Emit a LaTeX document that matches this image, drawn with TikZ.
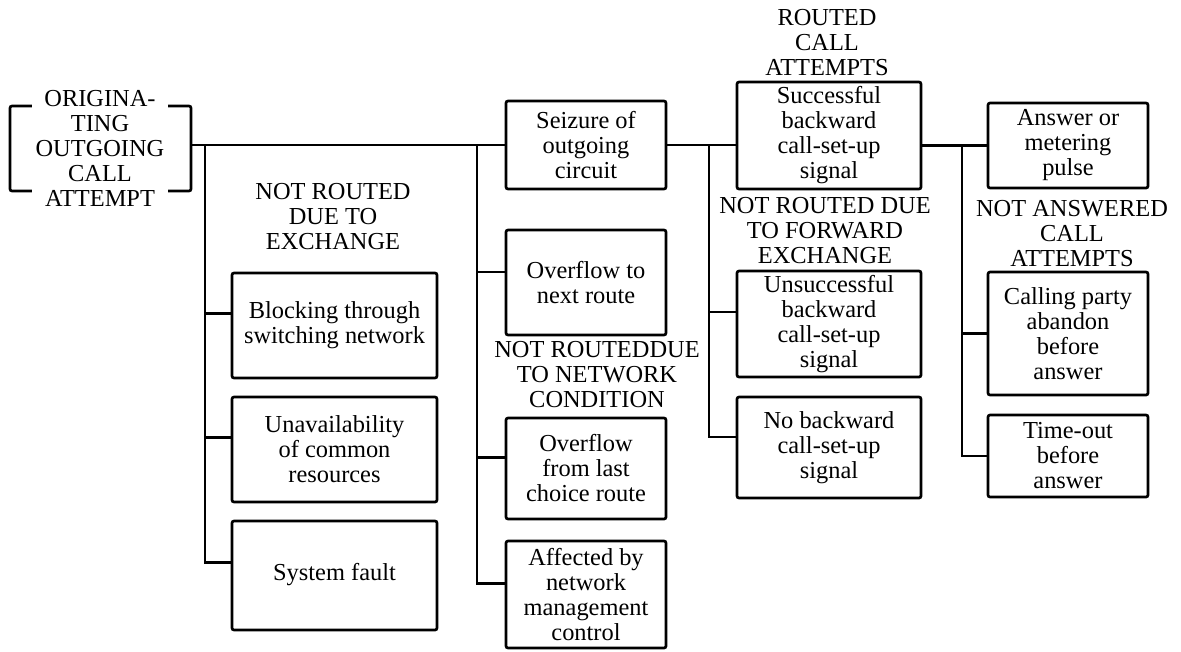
\documentclass[tikz,border=0pt]{standalone}
\usepackage{fontspec}
\setmainfont{Liberation Serif}
\newcommand\dglfont{\fontsize{18.3pt}{18.75pt}\selectfont}
% box from its left, top, right and bottom edge (in px units)
\newcommand\mkbox[6]{%
  \pgfmathsetmacro\mkbw{(#4-#2)*0.75}%
  \pgfmathsetmacro\mkbh{(#5-#3)*0.75}%
  \node[box, minimum width=\mkbw pt, minimum height=\mkbh pt] (#1)
    at ({(#2+#4)/2},{(#3+#5)/2}) {#6};}
\begin{document}
\begin{tikzpicture}[x=0.75pt,y=-0.75pt,
  box/.style={draw, line width=2pt, rounded corners=1.5pt, inner sep=0pt,
              align=center, font=\dglfont},
  lab/.style={align=center, font=\dglfont, inner sep=0pt},
  wire/.style={line width=2pt}]
\useasboundingbox (0,0) rectangle (1181,651);

% originating call attempt
\mkbox{origbox}{10}{106}{191}{191}{}
\node[lab, fill=white, inner xsep=3pt, inner ysep=1pt] (orig) at (100,148.5)
  {ORIGINA-\\TING\\OUTGOING\\CALL\\ATTEMPT};

% main chain
\mkbox{seizure}{506}{101}{666}{189}{Seizure of\\outgoing\\circuit}
\mkbox{success}{737}{82}{921}{189}{Successful\\backward\\call-set-up\\signal}
\mkbox{answer}{988}{103}{1148}{188}{Answer or\\metering\\pulse}

% not routed due to exchange
\mkbox{blocking}{232}{273}{437}{378}{Blocking through\\switching network}
\mkbox{unavail}{232}{397}{437}{502}{Unavailability\\of common\\resources}
\mkbox{sysfault}{232}{521}{437}{630}{\raisebox{5pt}{System fault}}

% not routed due to network condition
\mkbox{ovnext}{506}{230}{666}{335}{Overflow to\\next route}
\mkbox{ovlast}{506}{418}{666}{519}{Overflow\\from last\\choice route}
\mkbox{affected}{506}{541}{666}{648}{Affected by\\network\\management\\control}

% not routed due to forward exchange
\mkbox{unsucc}{737}{271}{921}{377}{Unsuccessful\\backward\\call-set-up\\signal}
\mkbox{noback}{737}{397}{921}{498}{No backward\\call-set-up\\signal}

% not answered
\mkbox{calling}{988}{272}{1148}{395}{Calling party\\abandon\\before\\answer}
\mkbox{timeout}{988}{415}{1148}{497}{Time-out\\before\\answer}

% group headings
\node[lab] (hrouted) at (827,43) {ROUTED\\CALL\\ATTEMPTS};
\node[lab] (hfwd) at (825,231) {NOT ROUTED DUE\\TO FORWARD\\EXCHANGE};
\node[lab] (hexch) at (333,217) {NOT ROUTED\\DUE TO\\EXCHANGE};
\node[lab] (hnet) at (597,375) {NOT ROUTEDDUE\\TO NETWORK\\CONDITION};
\node[lab] (hans) at (1072,234) {NOT ANSWERED\\CALL\\ATTEMPTS};

% main line
\draw[wire] (origbox.east |- seizure.west) -- (seizure.west);
\draw[wire] (seizure.east) -- (seizure.east -| success.west);
\draw[wire] (success.east |- answer.west) -- (answer.west);

% branch points on the main line
\coordinate (j1) at (205,145);
\coordinate (j2) at (477,145);
\coordinate (j3) at (709,145);
\coordinate (j4) at (962,145);

% entry points on the boxes
\coordinate (blockingin) at ([yshift=9pt]blocking.west);
\coordinate (unavailin) at ([yshift=9pt]unavail.west);
\coordinate (sysfaultin) at ([yshift=10pt]sysfault.west);
\coordinate (ovnextin) at ([yshift=8pt]ovnext.west);
\coordinate (ovlastin) at ([yshift=8.5pt]ovlast.west);
\coordinate (affectedin) at ([yshift=8.5pt]affected.west);
\coordinate (unsuccin) at ([yshift=9pt]unsucc.west);
\coordinate (nobackin) at ([yshift=8pt]noback.west);

% first column
\draw[wire] (j1) |- (sysfaultin);
\draw[wire] (blockingin -| j1) -- (blockingin);
\draw[wire] (unavailin -| j1) -- (unavailin);

% second column
\draw[wire] (j2) |- (affectedin);
\draw[wire] (ovnextin -| j2) -- (ovnextin);
\draw[wire] (ovlastin -| j2) -- (ovlastin);

% third column
\draw[wire] (j3) |- (nobackin);
\draw[wire] (unsuccin -| j3) -- (unsuccin);

% fourth column
\draw[wire] (j4) |- (timeout.west);
\draw[wire] (calling.west -| j4) -- (calling.west);
\end{tikzpicture}
\end{document}
